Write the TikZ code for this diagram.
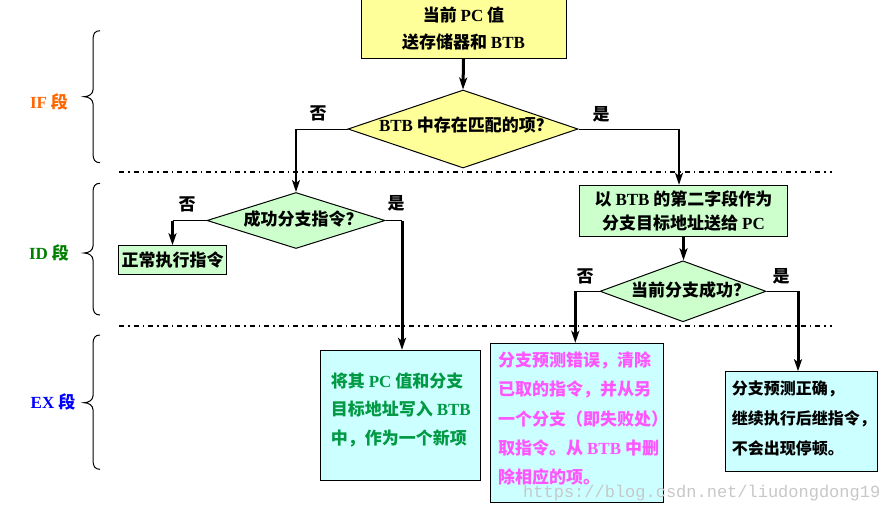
\documentclass[tikz,border=0pt]{standalone}
\usepackage{fontspec}
\setmainfont{Noto Sans CJK SC}
\newfontfamily\lat{Liberation Serif}
\newfontfamily\wmfont{Liberation Mono}
\usetikzlibrary{shapes.geometric,arrows.meta}
\definecolor{boxyellow}{HTML}{FFFF99}
\definecolor{boxgreen}{HTML}{CCFFCC}
\definecolor{boxcyan}{HTML}{CCFFFF}
\definecolor{ifcol}{HTML}{FF6600}
\definecolor{idcol}{HTML}{008000}
\definecolor{excol}{HTML}{0000FF}
\definecolor{txtgreen}{HTML}{009944}
\definecolor{txtpink}{HTML}{FF55FF}
\definecolor{wmgray}{HTML}{C8C8C8}
\newcommand{\latn}[1]{{\lat #1}}
\newcommand{\stgbrace}[3]{\draw[line width=1pt] (100,#1) .. controls (95,#1) and (93,#1+3) .. (93,#1+9) -- (93,#3-7) .. controls (93,#3-3) and (89,#3) .. (84,#3) .. controls (89,#3) and (93,#3+3) .. (93,#3+7) -- (93,#2-9) .. controls (93,#2-3) and (95,#2) .. (100,#2);}
\begin{document}
\begin{tikzpicture}[x=1pt,y=-1pt,
  every node/.style={font=\fontsize{17}{20}\selectfont\bfseries},
  boxnode/.style={draw, line width=1pt, inner sep=0pt, align=center},
  dia/.style={diamond, draw, line width=1pt, inner sep=0pt},
  lbl/.style={inner sep=0pt},
  conn/.style={line width=1pt},
  arrthick/.style={line width=3pt, -{Stealth[length=12pt,width=8pt,inset=3pt]}},
  arrmid/.style={line width=2pt, -{Stealth[length=12pt,width=8pt,inset=3pt]}},
  sep/.style={line width=2pt, dash pattern=on 5pt off 4pt on 1.5pt off 4pt}]
\fill[white] (0,0) rectangle (885,512);
\useasboundingbox (0,0) rectangle (885,512);

% stage separators and braces
\draw[sep] (119,172) -- (832,172);
\draw[sep] (119,325.5) -- (832,325.5);
\stgbrace{30.7}{162.7}{96.7}
\stgbrace{183.3}{315}{253}
\stgbrace{335}{469.3}{402.7}
\node[lbl, text=ifcol] (sif) at (49,102) {\latn{IF} 段};
\node[lbl, text=idcol] (sid) at (49,253) {\latn{ID} 段};
\node[lbl, text=excol] (sex) at (53,402) {\latn{EX} 段};

% nodes
\node[boxnode, fill=boxyellow, minimum width=205pt, minimum height=60.3pt,
      font=\fontsize{17}{27}\selectfont\bfseries] (pc) at (463.5,28.15) {当前 \latn{PC} 值\\送存储器和 \latn{BTB}};
\node[dia, fill=boxyellow, minimum width=230pt, minimum height=78pt] (d1) at (463,129) {};
\node[lbl] (t1) at (466,125) {\latn{BTB} 中存在匹配的项？};

\node[dia, fill=boxgreen, minimum width=178pt, minimum height=56pt] (d2) at (296,220.5) {};
\node[lbl] (t2) at (303,219) {成功分支指令？};
\node[boxnode, fill=boxgreen, minimum width=108.4pt, minimum height=28.3pt] (normal) at (172.5,259.85) {正常执行指令};

\node[boxnode, fill=boxgreen, minimum width=208.4pt, minimum height=51.4pt,
      font=\fontsize{17}{24.3}\selectfont\bfseries] (tgt) at (683.5,211) {以 \latn{BTB} 的第二字段作为\\分支目标地址送给 \latn{PC}};
\node[dia, fill=boxgreen, minimum width=166pt, minimum height=61pt] (d3) at (683,291.3) {};
\node[lbl] (t3) at (690.5,290) {当前分支成功？};

\node[boxnode, fill=boxcyan, minimum width=160.4pt, minimum height=130pt] (newent) at (400.5,415.3) {};
\node[lbl, anchor=west, align=left, text=txtgreen, font=\fontsize{17}{28.3}\selectfont\bfseries] (t4) at (330.7,410)
  {将其 \latn{PC} 值和分支\\目标地址写入 \latn{BTB}\\中，作为一个新项};

\node[boxnode, fill=boxcyan, minimum width=173pt, minimum height=159pt] (flush) at (576.8,422.8) {};
\node[lbl, anchor=west, align=left, text=txtpink, font=\fontsize{17}{29.2}\selectfont\bfseries] (t5) at (498,418.5)
  {分支预测错误，清除\\已取的指令，并从另\\一个分支（即失败处）\\取指令。从 \latn{BTB} 中删\\除相应的项。};

\node[boxnode, fill=boxcyan, minimum width=151.6pt, minimum height=99.3pt] (ok) at (801.5,421.35) {};
\node[lbl, anchor=west, align=left, font=\fontsize{16}{30}\selectfont\bfseries] (t6) at (731.7,418)
  {分支预测正确，\\继续执行后继指令，\\不会出现停顿。};

\node[lbl, anchor=west, text=wmgray, font=\fontsize{17}{20}\selectfont\wmfont] (wm) at (523,493) {https://blog.csdn.net/liudongdong19};

% yes / no labels
\node[lbl] (n1) at (318,113) {否};
\node[lbl] (y1) at (601,114) {是};
\node[lbl] (n2) at (187,204) {否};
\node[lbl] (y2) at (396,203) {是};
\node[lbl] (n3) at (585,276) {否};
\node[lbl] (y3) at (781,276) {是};

% connectors
\draw[arrthick] (pc.south) -- (d1.north);

\coordinate (c1) at (d2.north |- d1.west);
\draw[conn] (d1.west) -- (c1);
\draw[arrmid] (c1) -- (d2.north);

\coordinate (c2) at ([xshift=-4.5pt]tgt.north |- d1.east);
\draw[conn] (d1.east) -- (c2);
\draw[arrmid] (c2) -- (c2 |- tgt.north);

\draw[arrthick] (tgt.south) -- (tgt.south |- d3.north);

\coordinate (c3) at (normal.north |- d2.west);
\draw[conn] (d2.west) -- (c3);
\draw[arrthick] (c3) -- (normal.north);

\coordinate (c4) at ([xshift=1.5pt]newent.north |- d2.east);
\draw[conn] (d2.east) -- (c4);
\draw[arrthick] (c4) -- (c4 |- newent.north);

\coordinate (c5) at ([xshift=-1.5pt]flush.north |- d3.west);
\draw[conn] (d3.west) -- (c5);
\draw[arrthick] (c5) -- (c5 |- flush.north);

\coordinate (c6) at ([xshift=-3.5pt]ok.north |- d3.east);
\draw[conn] (d3.east) -- (c6);
\draw[arrthick] (c6) -- (c6 |- ok.north);
\end{tikzpicture}
\end{document}
